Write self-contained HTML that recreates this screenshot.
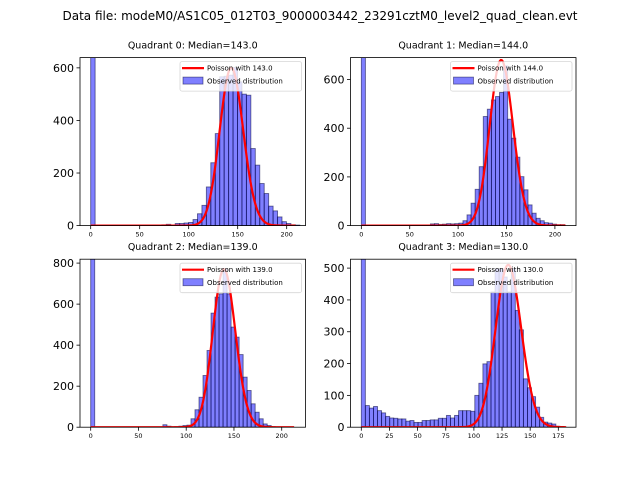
<!DOCTYPE html>
<html><head><meta charset="utf-8"><style>
body{margin:0;background:#fff;}
svg{display:block;font-family:"DejaVu Sans","Liberation Sans",sans-serif;}
</style></head><body>
<svg id="chart" width="640" height="480" viewBox="0 0 640 480" xmlns="http://www.w3.org/2000/svg">
<rect width="640" height="480" fill="#fff"/>
<text x="320" y="20" text-anchor="middle" font-size="12">Data file: modeM0/AS1C05_012T03_9000003442_23291cztM0_level2_quad_clean.evt</text>
</svg>
<script>
// ---- data ----
const quadrantNames = ["Quadrant 0", "Quadrant 1", "Quadrant 2", "Quadrant 3"];
const medians = [143.0, 144.0, 139.0, 130.0];
const binWidths = [4.54, 4.2, 4.2, 3.6];
const counts0 = [1500,0,0,0,0,0,0,0,0,0,0,0,0,0,0,0,3,5,2,8,8,10,12,23,45,77,147,239,350,566,568,572,601,547,500,496,293,230,160,122,74,56,33,15,8,3,2];
const counts1 = [1500,0,0,0,0,0,0,0,0,0,0,0,0,0,0,0,0,7,8,5,6,8,7,8,10,20,44,92,149,242,448,478,516,530,547,656,437,359,281,201,147,85,51,30,20,12,10,6,4,4];
const counts2 = [1500,0,0,0,0,0,0,0,0,0,0,0,0,0,0,0,0,0,12,5,2,3,5,8,10,41,85,146,252,374,556,634,650,772,650,488,439,354,244,179,114,73,41,16,8,3];
const counts3 = [1500,68,60,65,52,45,34,29,28,26,26,19,21,15,15,21,21,23,23,28,28,37,29,37,52,52,52,50,100,138,199,206,425,498,498,472,425,498,367,306,152,124,96,63,31,16,13,10,3];
const poissonPeaks = [600, 680, 770, 510];
const curveMax = [209, 211, 213, 182];
const xMins = [-10.9, -11.2, -11.2, -9.6];
const xMaxs = [219.2, 221.8, 224.9, 190.7];
const yMaxs = [639, 690, 819, 528];
const xTicks012 = [0, 50, 100, 150, 200];
const xTicks3 = [0, 25, 50, 75, 100, 125, 150, 175];
const yTicks01 = [0, 200, 400, 600];
const yTicks2 = [0, 200, 400, 600, 800];
const yTicks3 = [0, 100, 200, 300, 400, 500];

const allCounts = [counts0, counts1, counts2, counts3];
const allXTicks = [xTicks012, xTicks012, xTicks012, xTicks3];
const allYTicks = [yTicks01, yTicks01, yTicks2, yTicks3];
const boxes = [[80,57.6],[350.5,57.6],[80,259.2],[350.5,259.2]];
const W = 225.5, H = 168;
const NS = "http://www.w3.org/2000/svg";
const svg = document.getElementById("chart");
function mk(tag, attrs, parent){const e=document.createElementNS(NS,tag);for(const k in attrs)e.setAttribute(k,attrs[k]);(parent||svg).appendChild(e);return e;}
function logPois(k, lam){ // log pmf with Stirling-based lgamma
  function lg(z){ if(z<1e-9) return 0; z+=1; return (z-0.5)*Math.log(z)-z+0.5*Math.log(2*Math.PI)+1/(12*z)-Math.log(z); }
  return k*Math.log(lam)-lam-lg(k);
}
for(let q=0;q<4;q++){
  const [L,T]=boxes[q];
  const sx=v=>L+(v-xMins[q])/(xMaxs[q]-xMins[q])*W;
  const sy=v=>T+H-v/yMaxs[q]*H;
  const g=mk("g",{});
  
  
  const cid="clip"+q;
  const cp=mk("clipPath",{id:cid},g); mk("rect",{x:L,y:T,width:W,height:H},cp);
  const t=mk("text",{x:L+W/2,y:T-9,"text-anchor":"middle","font-size":"9.5"},g);
  t.textContent=quadrantNames[q]+": Median="+medians[q].toFixed(1);
  
  
  const plot=mk("g",{"clip-path":"url(#"+cid+")"},g);
  const c=allCounts[q], w=binWidths[q];
  c.forEach((v,i)=>{
    if(v<=0) return;
    const x0=sx(i*w), x1=sx((i+1)*w);
    const r=mk("rect",{x:x0,y:sy(v),width:x1-x0,height:sy(0)-sy(v),fill:"rgba(0,0,255,0.5)",stroke:"rgba(0,0,60,0.55)","stroke-width":"0.9"},plot);
    
    
  });
  const lam=medians[q], peakLog=logPois(Math.floor(lam),lam);
  let d="";
  for(let k=0;k<=curveMax[q];k++){
    const v=poissonPeaks[q]*Math.exp(logPois(k,lam)-peakLog);
    d+=(k?"L":"M")+sx(k).toFixed(2)+","+sy(v).toFixed(2);
  }
  const p=mk("path",{d:d,fill:"none",stroke:"#ff0000","stroke-width":"2.2","stroke-linejoin":"round"},plot);
  
  
  // legend
  const lg=mk("g",{},g);
  
  
  const lx=L+W-125.5, ly=T+4;
  mk("rect",{x:lx,y:ly,width:121.5,height:29.5,rx:2,fill:"rgba(255,255,255,0.8)",stroke:"rgba(204,204,204,0.8)","stroke-width":"0.8"},lg);
  mk("line",{x1:lx+2,y1:ly+6.5,x2:lx+24,y2:ly+6.5,stroke:"#ff0000","stroke-width":"2.2"},lg);
  const t1=mk("text",{x:lx+27,y:ly+9,"font-size":"7"},lg); t1.textContent="Poisson with "+medians[q].toFixed(1);
  mk("rect",{x:lx+3,y:ly+15.5,width:20,height:7,fill:"rgba(0,0,255,0.5)",stroke:"rgba(0,0,60,0.55)","stroke-width":"0.8"},lg);
  const t2=mk("text",{x:lx+27,y:ly+22,"font-size":"7"},lg); t2.textContent="Observed distribution";
  // axes frame
  const fr=mk("rect",{x:L,y:T,width:W,height:H,fill:"none",stroke:"#000","stroke-width":"0.8"},g);
  
  
  allXTicks[q].forEach(v=>{
    mk("line",{x1:sx(v),y1:T+H,x2:sx(v),y2:T+H+3.5,stroke:"#000","stroke-width":"0.8"},g);
    const tt=mk("text",{x:sx(v),y:T+H+11,"text-anchor":"middle","font-size":"6.5"},g);
    tt.textContent=v;
    
    
  });
  allYTicks[q].forEach(v=>{
    mk("line",{x1:L,y1:sy(v),x2:L-3.5,y2:sy(v),stroke:"#000","stroke-width":"0.8"},g);
    const tt=mk("text",{x:L-6,y:sy(v)+4,"text-anchor":"end","font-size":"11"},g);
    tt.textContent=v;
    
    
  });
}
</script>
</body></html>
